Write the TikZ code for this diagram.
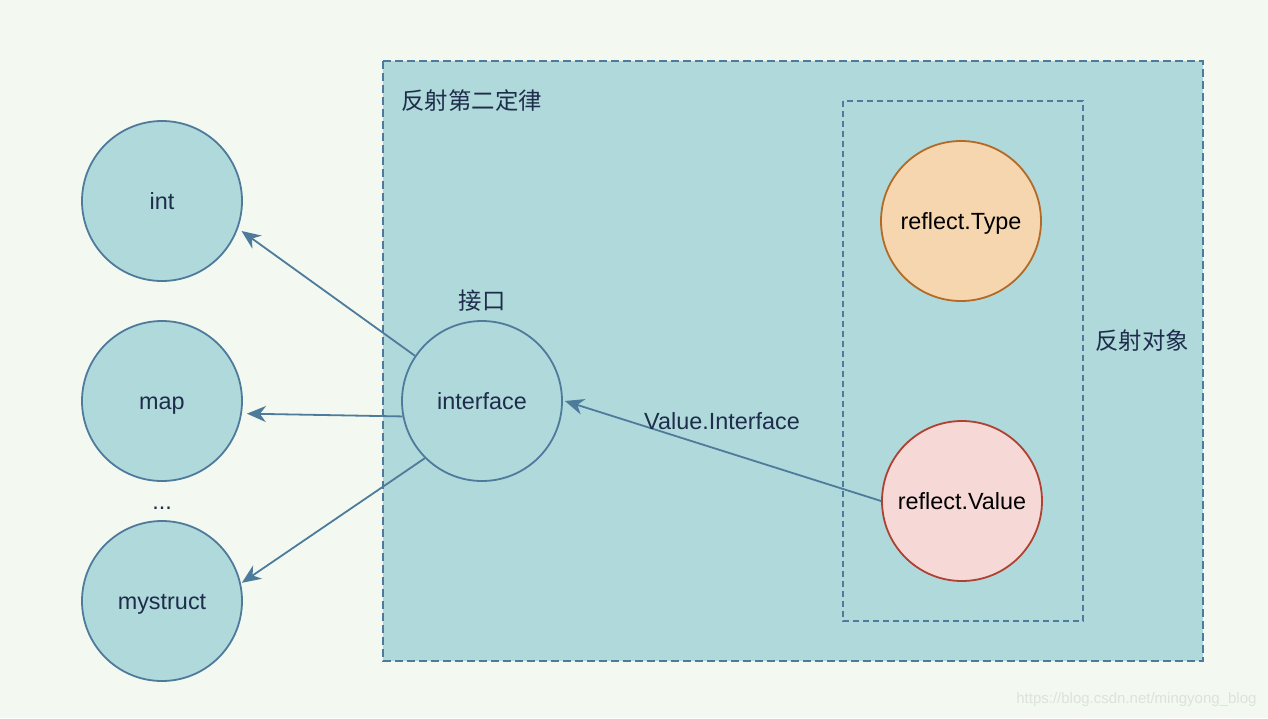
\documentclass[tikz,border=0pt]{standalone}
\usepackage{fontspec}
\setmainfont{Liberation Sans}
\newfontfamily\cjk{Noto Sans CJK SC}
\usetikzlibrary{arrows.meta,calc}
\definecolor{bgc}{HTML}{F3F9F1}
\definecolor{tealf}{HTML}{B0D9DB}
\definecolor{blues}{HTML}{4E7A9C}
\definecolor{navy}{HTML}{1E2D4B}
\definecolor{orf}{HTML}{F5D6AE}
\definecolor{ors}{HTML}{B46A26}
\definecolor{redf}{HTML}{F6D9D6}
\definecolor{reds}{HTML}{AE4132}
\definecolor{wm}{HTML}{DCE3DA}
\begin{document}
\begin{tikzpicture}[x=1pt,y=-1pt,
  lbl/.style={font=\fontsize{23.4}{26}\selectfont, text=navy},
  cjklbl/.style={font=\cjk\fontsize{23.4}{26}\selectfont, text=navy},
  circ/.style={circle, minimum size=160pt, inner sep=0pt, line width=1.8pt, text height=17pt, text depth=0pt, font=\fontsize{23.4}{26}\selectfont},
  bluec/.style={circ, draw=blues, fill=tealf, text=navy},
  arr/.style={draw=blues, line width=1.8pt, -{Stealth[length=19pt,width=16pt,inset=6pt]}}]
\useasboundingbox (0,0) rectangle (1268,718);
\fill[bgc] (0,0) rectangle (1268,718);
% outer container
\draw[blues, fill=tealf, line width=1.8pt, dash pattern=on 8pt off 4pt] (383,61) rectangle (1203,661);
\node[cjklbl, anchor=west] (t1) at (398,101) {反射第二定律};
% inner container
\draw[blues, line width=1.4pt, dash pattern=on 6pt off 4pt] (843,101) rectangle (1083,621);
\node[cjklbl] (t2) at (1142,341) {反射对象};
% circles
\node[bluec] (int) at (162,201) {int};
\node[bluec] (map) at (162,401) {map};
\node[bluec] (mys) at (162,601) {mystruct};
\node[lbl, anchor=base] (dots) at (162,509) {...};
\node[bluec] (itf) at (482,401) {interface};
\node[cjklbl] (jk) at (482,301) {接口};
\node[circ, draw=ors, fill=orf, text=black] (rt) at (961,221) {reflect.Type};
\node[circ, draw=reds, fill=redf, text=black] (rv) at (962,501) {reflect.Value};
% arrows
\draw[arr] (itf.146) -- ($(int.-21)+(4,1)$);
\draw[arr] (itf.191) -- ($(map.-9)+(5,0)$);
\draw[arr] (itf.225) -- ($(mys.13)+(1,0)$);
\draw[arr] (rv.west) -- ($(itf.east)+(2,0)$);
\node[lbl] (vi) at (722,421) {Value.Interface};
% watermark
\node[font=\fontsize{15}{17}\selectfont, text=wm, anchor=east] (wmk) at (1260,700) {https://blog.csdn.net/mingyong\_blog};
\end{tikzpicture}
\end{document}
